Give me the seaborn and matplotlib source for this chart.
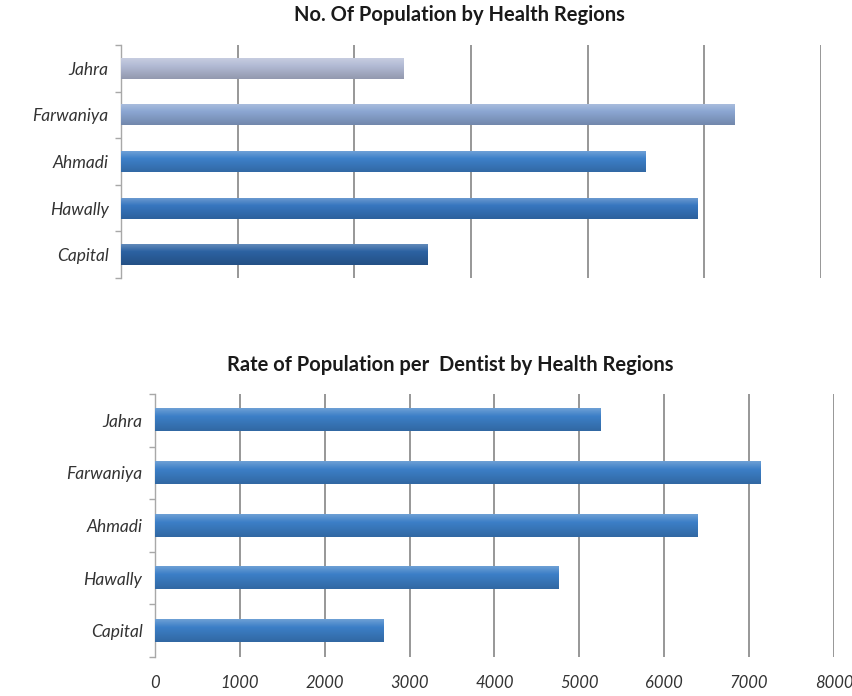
import matplotlib
matplotlib.use("Agg")
import matplotlib.pyplot as plt
import matplotlib.colors as mcolors
import seaborn as sns
import pandas as pd
import numpy as np

regions = ["Jahra", "Farwaniya", "Ahmadi", "Hawally", "Capital"]
population = [242000, 526000, 450000, 494000, 263000]
rate_per_dentist = [5250, 7130, 6390, 4760, 2690]
top_colors = ["#b3bbd5", "#8ba6d2", "#3d80c9", "#3776bf", "#2c62a2"]
bottom_color = "#3c7fc7"
rate_ticks = [0, 1000, 2000, 3000, 4000, 5000, 6000, 7000, 8000]

sns.set_theme(style="white")
plt.rcParams["font.family"] = ["Lato", "DejaVu Sans"]

fig = plt.figure(figsize=(8.53, 6.96), dpi=100)
ax1 = fig.add_axes([0.1419, 0.6006, 0.8206, 0.3347])
ax2 = fig.add_axes([0.1817, 0.0560, 0.7960, 0.3779])

df1 = pd.DataFrame({"Region": regions, "Population": population})
df2 = pd.DataFrame({"Region": regions, "Rate": rate_per_dentist})

sns.barplot(data=df1, y="Region", x="Population", hue="Region", order=regions,
            palette=dict(zip(regions, top_colors)), legend=False, width=0.45,
            saturation=1, ax=ax1, zorder=3)
sns.barplot(data=df2, y="Region", x="Rate", color=bottom_color, order=regions,
            width=0.42, saturation=1, ax=ax2, zorder=3)


def shade(ax):
    # vertical gradient on each bar: lighter at top, darker at bottom
    for p in list(ax.patches):
        x0, y0 = p.get_x(), p.get_y()
        w, h = p.get_width(), p.get_height()
        base = np.array(mcolors.to_rgb(p.get_facecolor()))
        light = np.clip(base + (1 - base) * 0.25, 0, 1)
        dark = base * 0.82
        n = 32
        t = np.linspace(0, 1, n)
        cols = np.empty((n, 1, 3))
        for i, v in enumerate(t):
            if v < 0.35:
                c = light + (base - light) * (v / 0.35)
            else:
                c = base + (dark - base) * ((v - 0.35) / 0.65)
            cols[i, 0] = c
        # y axis inverted: y0 is top in data terms after inversion handled by extent
        ax.imshow(cols, extent=(x0, x0 + w, y0 + h, y0), aspect="auto",
                  interpolation="bilinear", zorder=3.5)
        p.set_edgecolor("none")


def style(ax, xmax, step, show_labels):
    ax.set_xlim(0, xmax)
    ax.set_ylim(4.5, -0.5)
    ax.set_xticks(np.arange(0, xmax + step / 2, step))
    ax.grid(axis="x", color="#7a7a7a", linewidth=1.1, zorder=0)
    ax.grid(axis="y", visible=False)
    for s in ["top", "right", "bottom"]:
        ax.spines[s].set_visible(False)
    ax.spines["left"].set_color("#a8a8a8")
    ax.spines["left"].set_linewidth(1.0)
    ax.set_xlabel("")
    ax.set_ylabel("")
    ax.tick_params(axis="y", which="major", length=0, pad=9,
                   labelsize=12.5, labelcolor="#333333")
    ax.set_yticks(np.arange(-0.5, 5, 1.0), minor=True)
    ax.tick_params(axis="y", which="minor", length=4, color="#a8a8a8", left=True)
    for t in ax.get_yticklabels():
        t.set_fontstyle("italic")
    if show_labels:
        ax.tick_params(axis="x", length=0, pad=13, labelsize=12, labelcolor="#333333")
    else:
        ax.tick_params(axis="x", length=0, labelbottom=False)


style(ax1, 600000, 100000, False)
style(ax2, 8000, 1000, True)
shade(ax1)
shade(ax2)
ax1.set_xlim(0, 600000)
ax1.set_ylim(4.5, -0.5)
ax2.set_xlim(0, 8000)
ax2.set_ylim(4.5, -0.5)
ax2.set_xticklabels([str(v) for v in rate_ticks])
for t in ax2.get_xticklabels():
    t.set_fontstyle("italic")

fig.text(0.539, 0.979, "No. Of Population by Health Regions", ha="center", va="center",
         fontsize=14.5, fontweight="bold", color="#1a1a1a")
fig.text(0.528, 0.475, "Rate of Population per  Dentist by Health Regions", ha="center",
         va="center", fontsize=14.5, fontweight="bold", color="#1a1a1a")

fig.savefig("out.png", dpi=100)
